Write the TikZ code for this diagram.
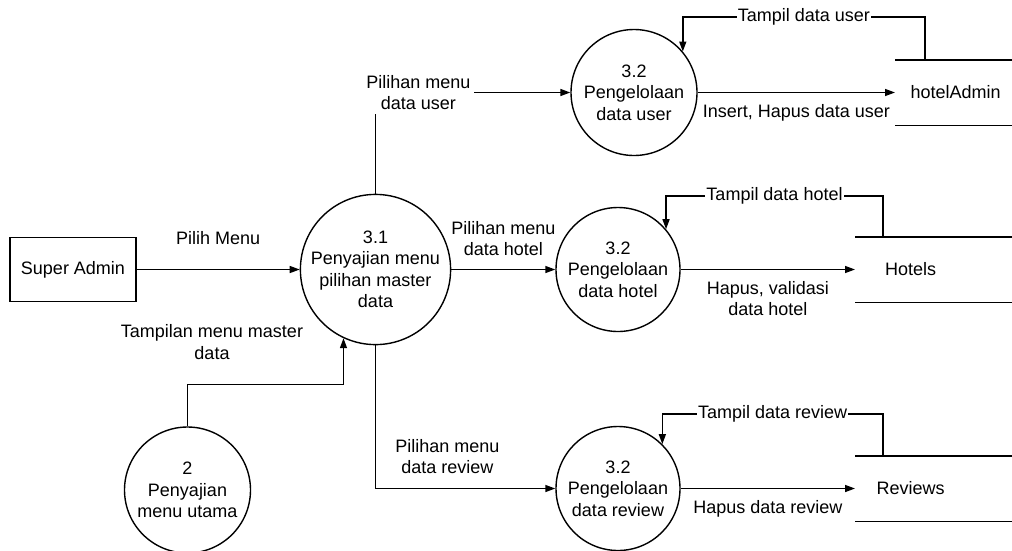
\documentclass[tikz,border=0pt]{standalone}
\usepackage{fontspec}
\setmainfont{Liberation Sans}
\usetikzlibrary{arrows.meta}

\begin{document}
\begin{tikzpicture}[x=1pt,y=-1pt,line width=1.4pt,
  font=\fontsize{18}{21.5}\selectfont,
  >={Triangle[length=10pt,width=7pt]},
  proc/.style={circle,draw,align=center,inner sep=0pt,minimum size=#1},
  store/.style={minimum height=64pt,minimum width=#1,inner sep=0pt},
  lbl/.style={align=center,inner sep=1pt}]
\useasboundingbox (0,0) rectangle (1012,550);
\coordinate (edge) at (1012,0);
\coordinate (bend) at (0,384.5);

\node [draw,minimum width=126pt,minimum height=64pt] (sa) at (73,269.5) {Super Admin};
\node [proc=145pt] (p31) at (375.5,269.5) {3.1\\Penyajian menu\\pilihan master\\data};
\node [proc=126pt] (p2) at (187.5,490) {2\\Penyajian\\menu utama};
\node [proc=126pt] (pu) at (634,92.5) {3.2\\Pengelolaan\\data user};
\node [proc=124pt] (ph) at (618,269.5) {3.2\\Pengelolaan\\data hotel};
\node [proc=124pt] (pr) at (618,488.5) {3.2\\Pengelolaan\\data review};
\node [store=120pt,anchor=west] (ua) at (895,92.5) {hotelAdmin};
\node [store=110pt,anchor=west] (ht) at (855,269.5) {Hotels};
\node [store=110pt,anchor=west] (rv) at (855,488.5) {Reviews};

\foreach \s in {ua,ht,rv}
  \draw (\s.north west) -- (\s.north west -| edge)
        (\s.south west) -- (\s.south west -| edge);

\draw [->] (sa) -- node [lbl,midway,yshift=31pt] {Pilih Menu} (p31);
\draw [->] (p2.north) |- (p31.245 |- bend) -- (p31.245);
\node [lbl] (ltm) at (212,342) {Tampilan menu master\\data};

\draw [->] (p31.north) |- node [lbl,pos=0.61,fill=white,inner sep=4pt] {Pilihan menu\\data user} (pu.west);
\draw [->] (p31) -- node [lbl,midway,yshift=31pt] {Pilihan menu\\data hotel} (ph);
\draw [->] (p31.south) |- node [lbl,pos=0.70,yshift=32pt] {Pilihan menu\\data review} (pr.west);

\draw [->] (pu) -- node [lbl,midway,yshift=-20pt] {Insert, Hapus data user} (ua);
\draw [->] (ph) -- node [lbl,midway,yshift=-29pt] {Hapus, validasi\\data hotel} (ht);
\draw [->] (pr) -- node [lbl,midway,yshift=-20pt] {Hapus data review} (rv);

\draw [->] ([xshift=30pt]ua.north west) -- ++(0,-43) -| node [lbl,pos=0.25,fill=white] {Tampil data user} (pu.40);
\draw [->] ([xshift=28pt]ht.north west) -- ++(0,-41) -| node [lbl,pos=0.25,fill=white] {Tampil data hotel} (ph.40);
\draw [->] ([xshift=28pt]rv.north west) -- ++(0,-42) -| node [lbl,pos=0.25,fill=white] {Tampil data review} (pr.45);
\end{tikzpicture}
\end{document}
